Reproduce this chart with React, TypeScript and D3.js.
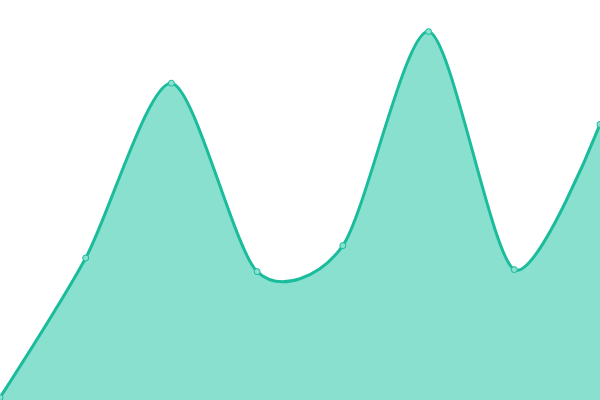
import React, { useEffect, useRef } from 'react';
import * as d3 from 'd3';

const WIDTH = 600;
const HEIGHT = 400;

// values, y domain 0..100
const categories = ['0', '1', '2', '3', '4', '5', '6', '7'];
const values = [0.6, 35.5, 79.2, 32.1, 38.6, 92.1, 32.6, 68.9];

const LINE_COLOR = '#1abc9c';
const FILL_COLOR = '#89e0cf';

const App: React.FC = () => {
  const svgRef = useRef<SVGSVGElement>(null);

  useEffect(() => {
    const svg = d3.select(svgRef.current);
    svg.selectAll('*').remove();

    const data = categories.map((c, i) => ({ cat: c, value: values[i] }));

    const x = d3.scalePoint<string>().domain(categories).range([0, WIDTH]);
    const y = d3.scaleLinear().domain([0, 100]).range([HEIGHT, 0]);

    const curve = d3.curveCardinal.tension(0.2);

    const area = d3.area<{ cat: string; value: number }>()
      .x(d => x(d.cat)!)
      .y0(HEIGHT)
      .y1(d => y(d.value))
      .curve(curve);

    const line = d3.line<{ cat: string; value: number }>()
      .x(d => x(d.cat)!)
      .y(d => y(d.value))
      .curve(curve);

    svg.append('path')
      .datum(data)
      .attr('fill', FILL_COLOR)
      .attr('d', area);

    svg.append('path')
      .datum(data)
      .attr('fill', 'none')
      .attr('stroke', LINE_COLOR)
      .attr('stroke-width', 3)
      .attr('d', line);

    // point markers
    svg.selectAll('.dot')
      .data(data)
      .enter().append('circle')
      .attr('class', 'dot')
      .attr('cx', d => x(d.cat)!)
      .attr('cy', d => y(d.value))
      .attr('r', 3)
      .attr('fill', FILL_COLOR)
      .attr('stroke', LINE_COLOR)
      .attr('stroke-width', 1);
  }, []);

  return (
    <svg
      ref={svgRef}
      width={WIDTH}
      height={HEIGHT}
      style={{ position: 'absolute', top: 0, left: 0, background: '#fff' }}
    ></svg>
  );
};

export default App;
